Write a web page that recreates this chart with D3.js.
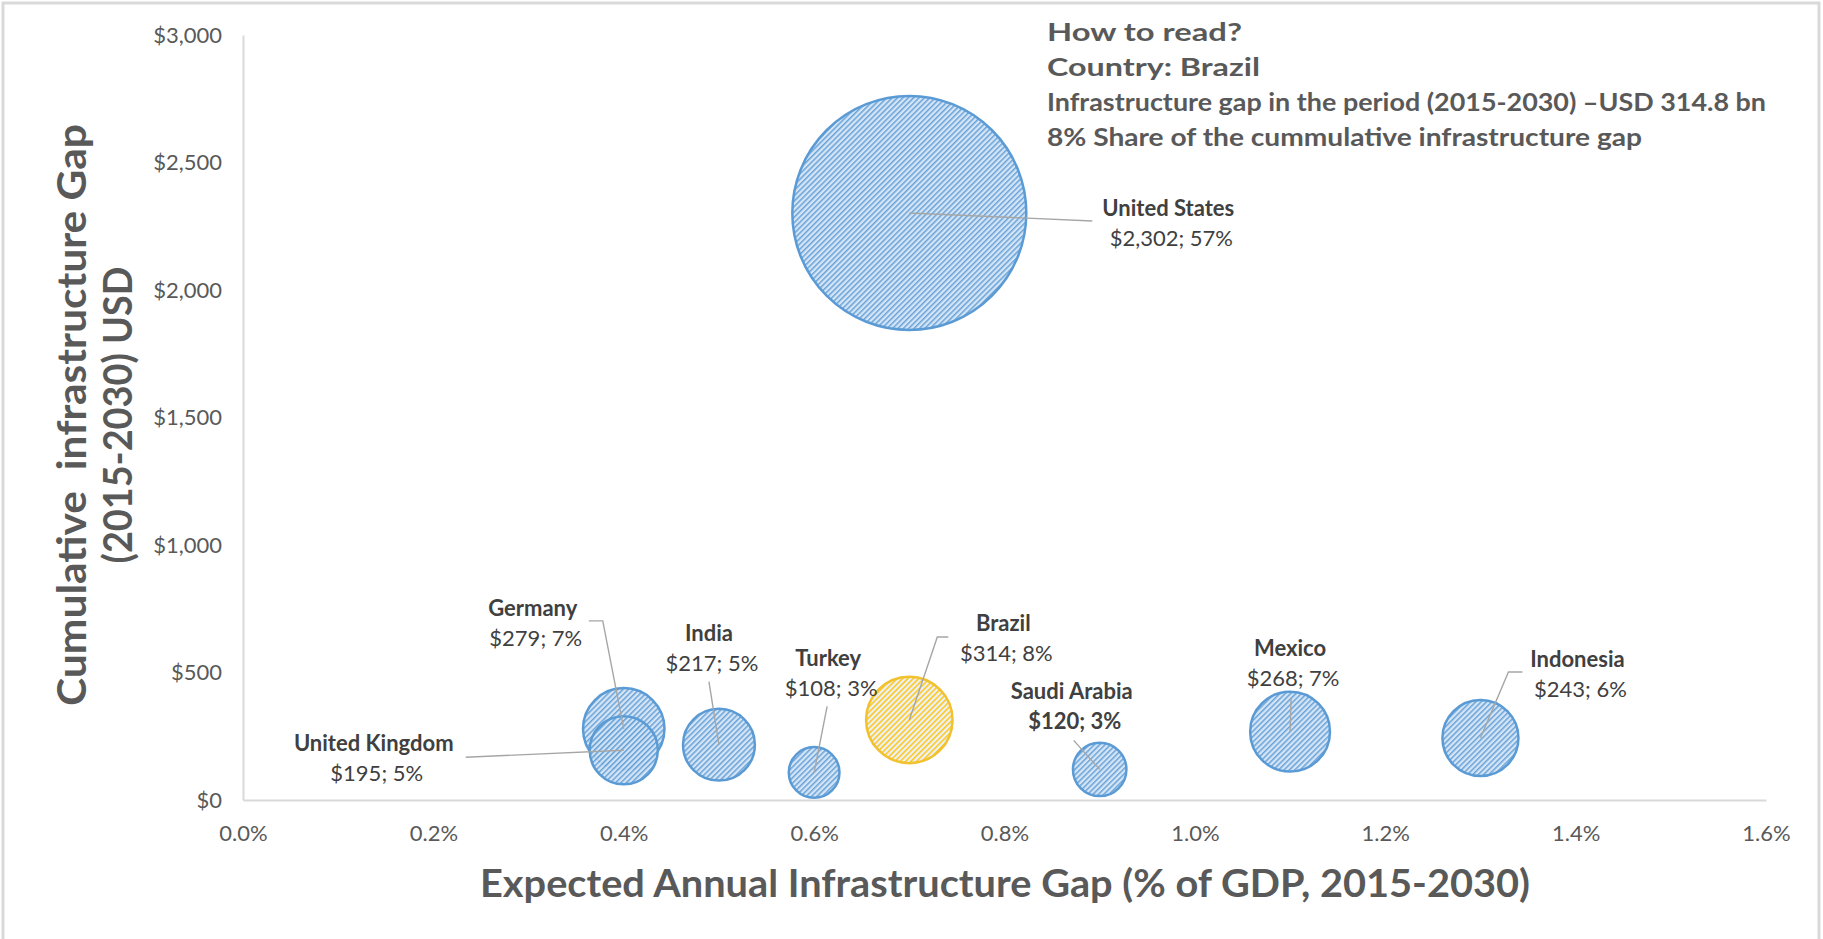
<!DOCTYPE html>
<html>
<head>
<meta charset="utf-8">
<script src="https://cdn.jsdelivr.net/npm/d3@7"></script>
<style>
    html, body { margin: 0; padding: 0; background: #fff; }
    svg { display: block; font-family: Lato, "Open Sans", sans-serif; }
</style>
</head>
<body>
<svg class="bubbleChart"></svg>
<script>
// data
const countries = ["United States", "Germany", "United Kingdom", "India", "Turkey", "Brazil", "Saudi Arabia", "Mexico", "Indonesia"];
const gdpGap = [0.007, 0.004, 0.004, 0.005, 0.006, 0.007, 0.009, 0.011, 0.013];
const cumulativeGap = [2302, 279, 195, 217, 108, 314, 120, 268, 243];
const shareOfGap = [57, 7, 5, 5, 3, 8, 3, 7, 6];
const highlighted = "Brazil";

const xTicks = [0, 0.002, 0.004, 0.006, 0.008, 0.010, 0.012, 0.014, 0.016];
const yTicks = [0, 500, 1000, 1500, 2000, 2500, 3000];

const noteLines = [
    "How to read?",
    "Country: Brazil",
    "Infrastructure gap in the period (2015-2030) \u2013USD 314.8 bn",
    "8% Share of the cummulative infrastructure gap"
];

// label placement relative to bubble centre (label [dx,dy], leader bend points)
const labelLayout = {
    "United States":  {label: [259, -5],   leader: [[183, 8]]},
    "Germany":        {label: [-91, -121], leader: [[-21, -108], [-35, -108]]},
    "United Kingdom": {label: [-250, -7],  leader: [[-158, 7]]},
    "India":          {label: [-10, -112], leader: [[-10, -63]]},
    "Turkey":         {label: [14, -114],  leader: [[13, -66]]},
    "Brazil":         {label: [94, -97],   leader: [[28, -83], [39, -83]]},
    "Saudi Arabia":   {label: [-28, -78],  leader: [[-26, -29]], boldValue: true},
    "Mexico":         {label: [0, -84],    leader: [[1, -34]], startAt: [1, -34], endAt: [0, 0]},
    "Indonesia":      {label: [97, -79],   leader: [[28, -66], [42, -66]]}
};

const W = 1823, H = 939;
const plot = {left: 243, right: 1766, top: 35, bottom: 800};

const svg = d3.select(".bubbleChart").attr("width", W).attr("height", H);

// frame around the picture
svg.append("path")
    .attr("d", `M3,${H} L3,3 L1819,3 L1819,${H}`)
    .attr("fill", "none")
    .attr("stroke", "#d9d9d9")
    .attr("stroke-width", 3);

const defs = svg.append("defs");
function addHatch(id, bg, fg) {
    const p = defs.append("pattern")
        .attr("id", id)
        .attr("patternUnits", "userSpaceOnUse")
        .attr("width", 3.8).attr("height", 3.8)
        .attr("patternTransform", "rotate(45)");
    p.append("rect").attr("width", 3.8).attr("height", 3.8).attr("fill", bg);
    p.append("rect").attr("width", 1.5).attr("height", 3.8).attr("fill", fg);
}
addHatch("hatchBlue", "#d2e3f5", "#5b9bd5");
addHatch("hatchGold", "#e9f1f8", "#ffc000");

const x = d3.scaleLinear().domain([0, 0.016]).range([plot.left, plot.right]);
const y = d3.scaleLinear().domain([0, 3000]).range([plot.bottom, plot.top]);
const r = d3.scaleSqrt().domain([0, 2302]).range([0, 117]);

// axes
const xAxis = svg.append("g")
    .attr("transform", `translate(0,${plot.bottom})`)
    .call(d3.axisBottom(x).tickValues(xTicks).tickSize(0).tickPadding(25)
        .tickFormat(d3.format(".1%")));
const yAxis = svg.append("g")
    .attr("transform", `translate(${plot.left},0)`)
    .call(d3.axisLeft(y).tickValues(yTicks).tickSize(0).tickPadding(21)
        .tickFormat(d => "$" + d3.format(",")(d)));

[xAxis, yAxis].forEach(a => {
    a.select(".domain").attr("stroke", "#d9d9d9").attr("stroke-width", 2);
    a.selectAll(".tick text")
        .style("font-family", "Lato")
        .style("font-size", "22px")
        .attr("fill", "#595959");
});

// axis titles
svg.append("text")
    .attr("x", (480 + 1530) / 2)
    .attr("y", 897)
    .attr("text-anchor", "middle")
    .attr("textLength", 1050)
    .attr("lengthAdjust", "spacingAndGlyphs")
    .style("font-size", "38px")
    .style("font-weight", "700")
    .attr("fill", "#595959")
    .text("Expected Annual Infrastructure Gap (% of GDP, 2015-2030)");

const yTitle = svg.append("g").attr("transform", "translate(0,415) rotate(-90)");
yTitle.append("text")
    .attr("x", 0).attr("y", 86)
    .attr("text-anchor", "middle")
    .attr("textLength", 582)
    .attr("lengthAdjust", "spacingAndGlyphs")
    .style("white-space", "pre")
    .style("font-size", "41px")
    .style("font-weight", "700")
    .attr("fill", "#595959")
    .text("Cumulative  infrastructure Gap");
yTitle.append("text")
    .attr("x", 0).attr("y", 132)
    .attr("text-anchor", "middle")
    .attr("textLength", 297)
    .attr("lengthAdjust", "spacingAndGlyphs")
    .style("font-size", "41px")
    .style("font-weight", "700")
    .attr("fill", "#595959")
    .text("(2015-2030) USD");

// bubbles, biggest first so the small ones sit on top
const data = countries.map((c, i) => ({
    name: c, gdp: gdpGap[i], gap: cumulativeGap[i], share: shareOfGap[i]
})).sort((a, b) => b.gap - a.gap);

svg.append("g").selectAll("circle")
    .data(data)
    .enter().append("circle")
    .attr("cx", d => x(d.gdp))
    .attr("cy", d => y(d.gap))
    .attr("r", d => r(d.gap))
    .attr("fill", d => d.name === highlighted ? "url(#hatchGold)" : "url(#hatchBlue)")
    .attr("fill-opacity", 0.92)
    .attr("stroke", d => d.name === highlighted ? "#f2c12e" : "#5b9bd5")
    .attr("stroke-width", 2.5);

// leader lines
svg.append("g").selectAll("path")
    .data(data)
    .enter().append("path")
    .attr("fill", "none")
    .attr("stroke", "#a6a6a6")
    .attr("stroke-width", 1.4)
    .attr("d", d => {
        const cx = x(d.gdp), cy = y(d.gap);
        const lay = labelLayout[d.name];
        let pts = [[0, 0]].concat(lay.leader);
        if (lay.startAt) pts = [lay.endAt, lay.startAt];
        return d3.line()(pts.map(p => [cx + p[0], cy + p[1]]));
    });

// data labels
const labels = svg.append("g").selectAll("g")
    .data(data)
    .enter().append("g")
    .attr("transform", d => {
        const lay = labelLayout[d.name];
        return `translate(${x(d.gdp) + lay.label[0]},${y(d.gap) + lay.label[1]})`;
    });

labels.append("text")
    .attr("text-anchor", "middle")
    .attr("y", 8)
    .style("font-size", "22px")
    .style("font-weight", "700")
    .attr("fill", "#404040")
    .text(d => d.name);

labels.append("text")
    .attr("text-anchor", "middle")
    .attr("x", 3)
    .attr("y", 38)
    .style("font-size", "22px")
    .style("font-weight", d => labelLayout[d.name].boldValue ? "700" : "400")
    .attr("fill", "#404040")
    .text(d => "$" + d3.format(",")(d.gap) + "; " + d.share + "%");

// how-to-read note
const noteWidths = [195, 213, 719, 595];
svg.append("g").selectAll("text")
    .data(noteLines)
    .enter().append("text")
    .attr("x", 1047)
    .attr("y", (d, i) => 41 + i * 35)
    .attr("textLength", (d, i) => noteWidths[i])
    .attr("lengthAdjust", "spacingAndGlyphs")
    .style("font-size", "25px")
    .style("font-weight", "700")
    .attr("fill", "#595959")
    .text(d => d);
</script>
</body>
</html>
